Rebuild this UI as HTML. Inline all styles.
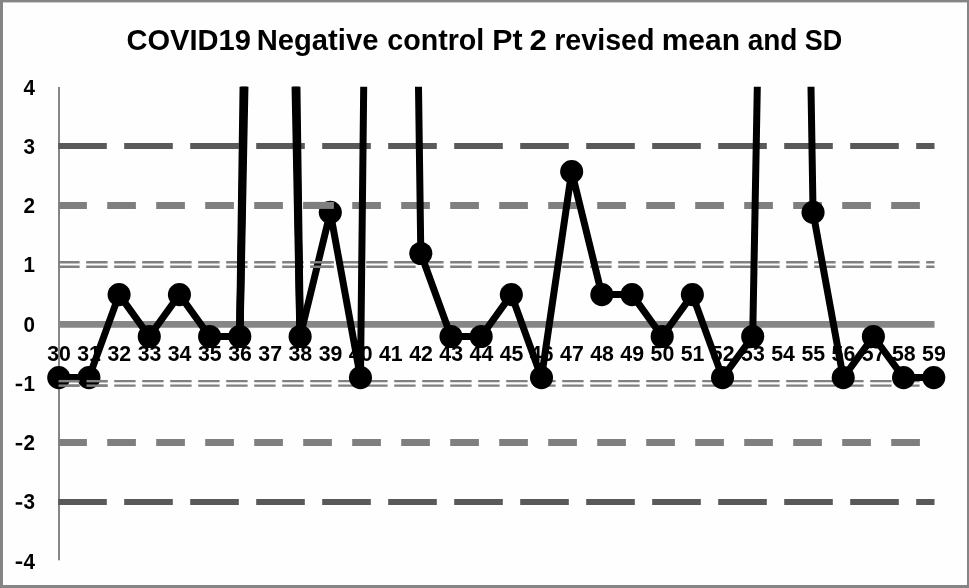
<!DOCTYPE html>
<html><head><meta charset="utf-8"><title>COVID19 Negative control Pt 2 revised mean and SD</title>
<style>
html,body{margin:0;padding:0;background:#fff;}
body{width:969px;height:588px;overflow:hidden;font-family:"Liberation Sans",sans-serif;}
svg{display:block;will-change:transform;filter:grayscale(1);}
text{font-family:"Liberation Sans",sans-serif;font-weight:bold;fill:#000;}
</style></head><body>
<svg width="969" height="588" viewBox="0 0 969 588">
<defs><clipPath id="plot"><rect x="40" y="86.8" width="920" height="480"/></clipPath></defs>
<rect x="0" y="0" width="969" height="588" fill="#fefefe"/>

<rect x="0" y="0" width="969" height="2.4" fill="#858585"/>
<rect x="0" y="0" width="3" height="588" fill="#858585"/>
<rect x="967" y="0" width="2" height="588" fill="#858585"/>
<rect x="0" y="585" width="969" height="3" fill="#858585"/>
<text x="126.5" y="49.6" font-size="30" textLength="124.4" lengthAdjust="spacingAndGlyphs">COVID19</text>
<text x="256.7" y="49.6" font-size="30" textLength="121.7" lengthAdjust="spacingAndGlyphs">Negative</text>
<text x="387.3" y="49.6" font-size="30" textLength="96.9" lengthAdjust="spacingAndGlyphs">control</text>
<text x="492.2" y="49.6" font-size="30" textLength="30.3" lengthAdjust="spacingAndGlyphs">Pt</text>
<text x="529.5" y="49.6" font-size="30" textLength="17.3" lengthAdjust="spacingAndGlyphs">2</text>
<text x="554.2" y="49.6" font-size="30" textLength="100.3" lengthAdjust="spacingAndGlyphs">revised</text>
<text x="661.7" y="49.6" font-size="30" textLength="78.4" lengthAdjust="spacingAndGlyphs">mean</text>
<text x="747.7" y="49.6" font-size="30" textLength="49.8" lengthAdjust="spacingAndGlyphs">and</text>
<text x="804.7" y="49.6" font-size="30" textLength="37.4" lengthAdjust="spacingAndGlyphs">SD</text>
<rect x="58" y="87" width="2" height="473.3" fill="#868686"/>
<text transform="translate(35.1,94.7) scale(0.92,1)" font-size="22.5" text-anchor="end">4</text>
<text transform="translate(35.1,153.9) scale(0.92,1)" font-size="22.5" text-anchor="end">3</text>
<text transform="translate(35.1,213.2) scale(0.92,1)" font-size="22.5" text-anchor="end">2</text>
<text transform="translate(35.1,272.4) scale(0.92,1)" font-size="22.5" text-anchor="end">1</text>
<text transform="translate(35.1,331.7) scale(0.92,1)" font-size="22.5" text-anchor="end">0</text>
<text transform="translate(35.1,390.9) scale(0.92,1)" font-size="22.5" text-anchor="end">1</text>
<rect x="15.7" y="383.70" width="6.5" height="2.5" fill="#000"/>
<text transform="translate(35.1,450.2) scale(0.92,1)" font-size="22.5" text-anchor="end">2</text>
<rect x="15.7" y="442.95" width="6.5" height="2.5" fill="#000"/>
<text transform="translate(35.1,509.4) scale(0.92,1)" font-size="22.5" text-anchor="end">3</text>
<rect x="15.7" y="502.20" width="6.5" height="2.5" fill="#000"/>
<text transform="translate(35.1,568.7) scale(0.92,1)" font-size="22.5" text-anchor="end">4</text>
<rect x="15.7" y="561.45" width="6.5" height="2.5" fill="#000"/>
<text x="59.0" y="360.7" font-size="21.8" text-anchor="middle" textLength="23.7" lengthAdjust="spacingAndGlyphs">30</text>
<text x="89.1" y="360.7" font-size="21.8" text-anchor="middle" textLength="23.7" lengthAdjust="spacingAndGlyphs">31</text>
<text x="119.3" y="360.7" font-size="21.8" text-anchor="middle" textLength="23.7" lengthAdjust="spacingAndGlyphs">32</text>
<text x="149.5" y="360.7" font-size="21.8" text-anchor="middle" textLength="23.7" lengthAdjust="spacingAndGlyphs">33</text>
<text x="179.6" y="360.7" font-size="21.8" text-anchor="middle" textLength="23.7" lengthAdjust="spacingAndGlyphs">34</text>
<text x="209.8" y="360.7" font-size="21.8" text-anchor="middle" textLength="23.7" lengthAdjust="spacingAndGlyphs">35</text>
<text x="240.0" y="360.7" font-size="21.8" text-anchor="middle" textLength="23.7" lengthAdjust="spacingAndGlyphs">36</text>
<text x="270.2" y="360.7" font-size="21.8" text-anchor="middle" textLength="23.7" lengthAdjust="spacingAndGlyphs">37</text>
<text x="300.3" y="360.7" font-size="21.8" text-anchor="middle" textLength="23.7" lengthAdjust="spacingAndGlyphs">38</text>
<text x="330.5" y="360.7" font-size="21.8" text-anchor="middle" textLength="23.7" lengthAdjust="spacingAndGlyphs">39</text>
<text x="360.7" y="360.7" font-size="21.8" text-anchor="middle" textLength="23.7" lengthAdjust="spacingAndGlyphs">40</text>
<text x="390.8" y="360.7" font-size="21.8" text-anchor="middle" textLength="23.7" lengthAdjust="spacingAndGlyphs">41</text>
<text x="421.0" y="360.7" font-size="21.8" text-anchor="middle" textLength="23.7" lengthAdjust="spacingAndGlyphs">42</text>
<text x="451.2" y="360.7" font-size="21.8" text-anchor="middle" textLength="23.7" lengthAdjust="spacingAndGlyphs">43</text>
<text x="481.4" y="360.7" font-size="21.8" text-anchor="middle" textLength="23.7" lengthAdjust="spacingAndGlyphs">44</text>
<text x="511.5" y="360.7" font-size="21.8" text-anchor="middle" textLength="23.7" lengthAdjust="spacingAndGlyphs">45</text>
<text x="541.7" y="360.7" font-size="21.8" text-anchor="middle" textLength="23.7" lengthAdjust="spacingAndGlyphs">46</text>
<text x="571.9" y="360.7" font-size="21.8" text-anchor="middle" textLength="23.7" lengthAdjust="spacingAndGlyphs">47</text>
<text x="602.0" y="360.7" font-size="21.8" text-anchor="middle" textLength="23.7" lengthAdjust="spacingAndGlyphs">48</text>
<text x="632.2" y="360.7" font-size="21.8" text-anchor="middle" textLength="23.7" lengthAdjust="spacingAndGlyphs">49</text>
<text x="662.4" y="360.7" font-size="21.8" text-anchor="middle" textLength="23.7" lengthAdjust="spacingAndGlyphs">50</text>
<text x="692.6" y="360.7" font-size="21.8" text-anchor="middle" textLength="23.7" lengthAdjust="spacingAndGlyphs">51</text>
<text x="722.7" y="360.7" font-size="21.8" text-anchor="middle" textLength="23.7" lengthAdjust="spacingAndGlyphs">52</text>
<text x="752.9" y="360.7" font-size="21.8" text-anchor="middle" textLength="23.7" lengthAdjust="spacingAndGlyphs">53</text>
<text x="783.1" y="360.7" font-size="21.8" text-anchor="middle" textLength="23.7" lengthAdjust="spacingAndGlyphs">54</text>
<text x="813.3" y="360.7" font-size="21.8" text-anchor="middle" textLength="23.7" lengthAdjust="spacingAndGlyphs">55</text>
<text x="843.4" y="360.7" font-size="21.8" text-anchor="middle" textLength="23.7" lengthAdjust="spacingAndGlyphs">56</text>
<text x="873.6" y="360.7" font-size="21.8" text-anchor="middle" textLength="23.7" lengthAdjust="spacingAndGlyphs">57</text>
<text x="903.8" y="360.7" font-size="21.8" text-anchor="middle" textLength="23.7" lengthAdjust="spacingAndGlyphs">58</text>
<text x="933.9" y="360.7" font-size="21.8" text-anchor="middle" textLength="23.7" lengthAdjust="spacingAndGlyphs">59</text>
<line x1="58.2" y1="146.1" x2="934.5" y2="146.1" stroke="#595959" stroke-width="6.0" stroke-dasharray="48.6 17.4"/>
<line x1="58.2" y1="501.9" x2="934.5" y2="501.9" stroke="#595959" stroke-width="6.0" stroke-dasharray="48.6 17.4"/>
<line x1="58.2" y1="205.4" x2="934.5" y2="205.4" stroke="#7f7f7f" stroke-width="7.0" stroke-dasharray="28.7 20.3"/>
<line x1="58.2" y1="442.5" x2="934.5" y2="442.5" stroke="#7f7f7f" stroke-width="7.0" stroke-dasharray="28.7 20.3"/>
<line x1="58.2" y1="262.2" x2="934.5" y2="262.2" stroke="#808080" stroke-width="2.4" stroke-dasharray="21.4 6.6"/><line x1="58.2" y1="266.8" x2="934.5" y2="266.8" stroke="#808080" stroke-width="2.4" stroke-dasharray="21.4 6.6"/>
<line x1="58.2" y1="324.4" x2="934.5" y2="324.4" stroke="#868686" stroke-width="6.7"/>
<line x1="58.2" y1="381.1" x2="934.5" y2="381.1" stroke="#808080" stroke-width="2.4" stroke-dasharray="21.4 6.6"/><line x1="58.2" y1="385.6" x2="934.5" y2="385.6" stroke="#808080" stroke-width="2.4" stroke-dasharray="21.4 6.6"/>
<g clip-path="url(#plot)" stroke="#000" stroke-width="7" fill="none" stroke-linejoin="round" stroke-linecap="round">
<polyline points="58.75,377.60 88.92,377.60 119.09,294.60 149.27,336.50 179.44,294.60 209.61,336.50 239.78,336.50 248.85,-200.00"/>
<polyline points="291.25,-200.00 300.13,336.50 330.30,212.30 360.47,377.60 366.89,-200.00"/>
<polyline points="414.51,-200.00 420.81,253.50 450.99,336.50 481.16,336.50 511.33,294.60 541.50,377.60 571.67,171.60 601.85,294.60 632.02,294.60 662.19,336.50 692.36,294.60 722.53,377.60 752.71,336.50 762.58,-200.00"/>
<polyline points="806.30,-200.00 813.05,212.30 843.22,377.60 873.39,336.50 903.57,377.60 933.74,377.60"/>
<polyline stroke-width="7.5" points="239.78,336.50 247.35,-200.00"/>
<polyline stroke-width="7.5" points="239.78,336.50 250.36,-200.00"/>
<polyline stroke-width="7.5" points="300.13,336.50 289.75,-200.00"/>
<polyline stroke-width="7.5" points="300.13,336.50 292.76,-200.00"/>
</g>
<g fill="#000">
<circle cx="58.75" cy="377.60" r="11.55"/>
<circle cx="88.92" cy="377.60" r="11.55"/>
<circle cx="119.09" cy="294.60" r="11.55"/>
<circle cx="149.27" cy="336.50" r="11.55"/>
<circle cx="179.44" cy="294.60" r="11.55"/>
<circle cx="209.61" cy="336.50" r="11.55"/>
<circle cx="239.78" cy="336.50" r="11.55"/>
<circle cx="300.13" cy="336.50" r="11.55"/>
<circle cx="330.30" cy="212.30" r="11.55"/>
<circle cx="360.47" cy="377.60" r="11.55"/>
<circle cx="420.81" cy="253.50" r="11.55"/>
<circle cx="450.99" cy="336.50" r="11.55"/>
<circle cx="481.16" cy="336.50" r="11.55"/>
<circle cx="511.33" cy="294.60" r="11.55"/>
<circle cx="541.50" cy="377.60" r="11.55"/>
<circle cx="571.67" cy="171.60" r="11.55"/>
<circle cx="601.85" cy="294.60" r="11.55"/>
<circle cx="632.02" cy="294.60" r="11.55"/>
<circle cx="662.19" cy="336.50" r="11.55"/>
<circle cx="692.36" cy="294.60" r="11.55"/>
<circle cx="722.53" cy="377.60" r="11.55"/>
<circle cx="752.71" cy="336.50" r="11.55"/>
<circle cx="813.05" cy="212.30" r="11.55"/>
<circle cx="843.22" cy="377.60" r="11.55"/>
<circle cx="873.39" cy="336.50" r="11.55"/>
<circle cx="903.57" cy="377.60" r="11.55"/>
<circle cx="933.74" cy="377.60" r="11.55"/>
</g>
<line x1="58.5" y1="381.15" x2="79.5" y2="381.15" stroke="#808080" stroke-width="2.4"/><line x1="58.5" y1="385.65" x2="79.5" y2="385.65" stroke="#808080" stroke-width="2.4"/>
<line x1="86.5" y1="381.15" x2="107.5" y2="381.15" stroke="#808080" stroke-width="2.4"/><line x1="86.5" y1="385.65" x2="107.5" y2="385.65" stroke="#808080" stroke-width="2.4"/>
<line x1="310.4" y1="262.25" x2="333.9" y2="262.25" stroke="#808080" stroke-width="2.4"/><line x1="310.4" y1="266.75" x2="333.9" y2="266.75" stroke="#808080" stroke-width="2.4"/>
<line x1="303.4" y1="205.40" x2="333.9" y2="205.40" stroke="#7f7f7f" stroke-width="7.0"/>
</svg></body></html>
